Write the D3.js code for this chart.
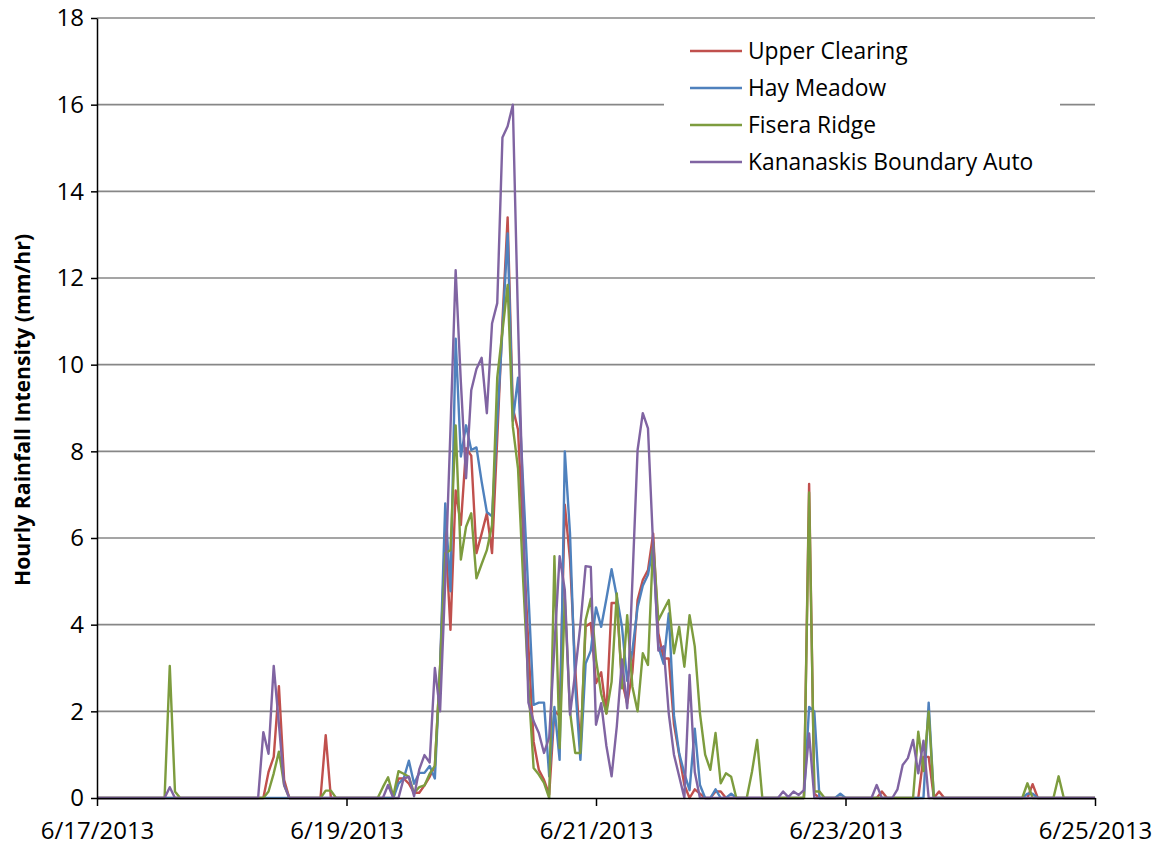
<!DOCTYPE html>
<html>
<head>
<meta charset="utf-8">
<script src="https://cdn.jsdelivr.net/npm/d3@7"></script>
<style>
  html, body { margin: 0; padding: 0; background: #fff; }
  svg { display: block; font-family: "Open Sans", "Liberation Sans", sans-serif; }
  .grid line { stroke: #878787; stroke-width: 1.6; }
  .axis path, .axis line { stroke: #000; stroke-width: 1.5; }
  .axis text { font-family: "Open Sans", "Liberation Sans", sans-serif; font-size: 24px; fill: #000; }
  .series { fill: none; stroke-width: 2.4; stroke-linejoin: round; }
</style>
</head>
<body>
<div id="chart"></div>
<script>
// --- DATA ---
// hourly values, 6/17/2013 00:00 to 6/25/2013 00:00 (one row per day)
const startDate = new Date(2013, 5, 17);
const endDate = new Date(2013, 5, 25);
const seriesNames = ["Upper Clearing", "Hay Meadow", "Fisera Ridge", "Kananaskis Boundary Auto"];
const seriesColors = ["#c0504d", "#4f81bd", "#7d9c3e", "#8064a2"];
const yTicks = [0, 2, 4, 6, 8, 10, 12, 14, 16, 18];
const xTickDates = ["2013-06-17", "2013-06-19", "2013-06-21", "2013-06-23", "2013-06-25"];

const upperClearing = [
  0,0,0,0,0,0,0,0,0,0,0,0,0,0,0,0,0,0,0,0,0,0,0,0,
  0,0,0,0,0,0,0,0,0,0.6,0.95,2.58,0.42,0,0,0,0,0,0,0,1.45,0,0,0,
  0,0,0,0,0,0,0,0,0,0,0.45,0.45,0.33,0.12,0.12,0.29,0.49,0.74,3.0,6.2,3.88,7.1,6.3,8.07,
  7.9,5.65,6.1,6.57,5.65,8.3,11.0,13.4,9.0,8.5,6.0,3.5,1.3,0.65,0.42,0.08,2.0,1.9,6.77,5.5,3.0,1.1,3.96,4.04,
  2.65,2.9,1.95,4.5,4.5,2.7,2.18,2.9,4.57,5.03,5.26,6.1,3.8,3.22,3.22,1.7,1.0,0.3,0,0.2,0.1,0,0,0.15,
  0.15,0,0,0,0,0,0,0,0,0,0,0,0,0,0,0,0,7.25,0.1,0,0,0,0,0,
  0,0,0,0,0,0,0,0.15,0,0,0,0,0,0,0,0.95,0.95,0,0.15,0,0,0,0,0,
  0,0,0,0,0,0,0,0,0,0,0,0,0.32,0,0,0,0,0,0,0,0,0,0,0,
  0
];
const hayMeadow = [
  0,0,0,0,0,0,0,0,0,0,0,0,0,0,0,0,0,0,0,0,0,0,0,0,
  0,0,0,0,0,0,0,0,0,0,0,0,0,0,0,0,0,0,0,0,0,0,0,0,
  0,0,0,0,0,0,0,0,0,0,0.33,0.45,0.86,0.33,0.58,0.58,0.74,0.45,3.0,6.8,4.77,10.6,7.88,8.6,
  8.03,8.09,7.3,6.6,6.5,8.7,10.8,13.03,8.7,9.7,7.2,4.7,2.15,2.2,2.2,0.5,2.1,0.88,8.0,6.1,2.6,0.88,3.1,3.4,
  4.4,3.95,4.6,5.28,4.65,3.95,2.7,3.4,4.4,4.9,5.15,5.8,3.5,3.1,4.26,1.9,1.03,0.57,0.18,1.6,0.3,0,0,0.2,
  0,0,0.1,0,0,0,0,0,0,0,0,0,0,0,0,0,0,2.1,2.0,0,0,0,0,0.1,
  0,0,0,0,0,0,0,0,0,0,0,0,0,0,0,0,2.2,0,0,0,0,0,0,0,
  0,0,0,0,0,0,0,0,0,0,0,0.1,0.1,0,0,0,0,0,0,0,0,0,0,0,
  0
];
const fiseraRidge = [
  0,0,0,0,0,0,0,0,0,0,0,0,0,0,3.05,0.15,0,0,0,0,0,0,0,0,
  0,0,0,0,0,0,0,0,0,0.15,0.57,1.07,0.3,0,0,0,0,0,0,0,0.17,0.17,0,0,
  0,0,0,0,0,0,0,0.25,0.48,0.04,0.62,0.56,0.49,0.12,0.25,0.29,0.56,0.74,3.0,5.65,5.72,8.6,5.5,6.26,
  6.57,5.07,5.4,5.72,6.3,9.7,10.76,11.84,8.57,7.6,5.0,2.6,0.69,0.54,0.35,0,5.58,1.15,4.6,2.0,1.04,1.04,4.1,4.6,
  3.2,2.4,1.95,2.68,4.72,2.53,4.22,2.57,2.0,3.34,3.07,5.9,4.1,4.34,4.57,3.34,3.95,3.03,4.22,3.5,1.95,1.0,0.65,1.5,
  0.34,0.57,0.49,0,0,0,0.6,1.34,0,0,0,0,0,0,0,0,0,7.05,0.15,0.15,0,0,0,0,
  0,0,0,0,0,0,0,0,0,0,0,0,0,0,1.53,0.62,2.0,0,0,0,0,0,0,0,
  0,0,0,0,0,0,0,0,0,0,0,0.34,0,0,0,0,0,0.5,0,0,0,0,0,0,
  0
];
const kananaskisBoundary = [
  0,0,0,0,0,0,0,0,0,0,0,0,0,0,0.25,0,0,0,0,0,0,0,0,0,
  0,0,0,0,0,0,0,0,1.52,1.02,3.05,1.7,0.3,0,0,0,0,0,0,0,0,0,0,0,
  0,0,0,0,0,0,0,0,0.3,0,0,0.45,0.49,0.04,0.66,0.99,0.82,3.0,2.0,5.0,8.5,12.18,9.6,7.38,
  9.41,9.9,10.16,8.88,10.95,11.42,15.24,15.5,16.0,11.0,6.5,2.2,1.77,1.5,1.04,1.4,3.5,5.58,4.8,1.92,2.9,4.0,5.35,5.33,
  1.69,2.19,1.2,0.5,1.65,3.2,2.07,5.0,8.03,8.88,8.53,5.8,3.4,3.5,1.95,1.0,0.5,0,2.84,0.6,0,0,0,0,
  0,0,0,0,0,0,0,0,0,0,0,0,0.15,0.02,0.15,0.07,0.18,1.49,0,0,0,0,0,0,
  0,0,0,0,0,0,0.3,0,0,0,0.2,0.76,0.92,1.34,0.57,1.32,0,0,0,0,0,0,0,0,
  0,0,0,0,0,0,0,0,0,0,0,0,0,0,0,0,0,0,0,0,0,0,0,0,
  0
];
const seriesValues = [upperClearing, hayMeadow, fiseraRidge, kananaskisBoundary];

// --- LAYOUT ---
const W = 1159, H = 848;
const margin = { top: 18, right: 64, bottom: 50, left: 97 };
const plotW = W - margin.left - margin.right;
const plotH = H - margin.top - margin.bottom;

const svg = d3.select("#chart").append("svg")
  .attr("width", W).attr("height", H);
const g = svg.append("g").attr("transform", `translate(${margin.left},${margin.top})`);

const hourTime = i => new Date(startDate.getTime() + i * 3600 * 1000);

const x = d3.scaleTime().domain([startDate, endDate]).range([0, plotW]);
const y = d3.scaleLinear().domain([0, 18]).range([plotH, 0]);

// gridlines
g.append("g").attr("class", "grid")
  .selectAll("line").data(yTicks.filter(d => d > 0)).enter().append("line")
  .attr("x1", 0).attr("x2", plotW)
  .attr("y1", d => y(d)).attr("y2", d => y(d));

// series lines
const line = d3.line()
  .x((d, i) => x(hourTime(i)))
  .y(d => y(d));

seriesValues.forEach((vals, k) => {
  g.append("path")
    .datum(vals)
    .attr("class", "series")
    .attr("stroke", seriesColors[k])
    .attr("d", line);
});

// axes
const parseDay = d3.timeParse("%Y-%m-%d");
const xAxis = d3.axisBottom(x)
  .tickValues(xTickDates.map(parseDay))
  .tickFormat(d3.timeFormat("%-m/%-d/%Y"))
  .tickSizeInner(8).tickSizeOuter(0).tickPadding(16);
g.append("g").attr("class", "axis")
  .attr("transform", `translate(0,${plotH})`)
  .call(xAxis);

const yAxis = d3.axisLeft(y)
  .tickValues(yTicks)
  .tickSizeInner(6).tickSizeOuter(0).tickPadding(7);
g.append("g").attr("class", "axis").call(yAxis);

// y axis title
svg.append("text")
  .attr("transform", `translate(30,${margin.top + plotH / 2 + 2}) rotate(-90)`)
  .attr("text-anchor", "middle")
  .style("font-size", "21.2px").style("font-weight", "bold")
  .text("Hourly Rainfall Intensity (mm/hr)");

// legend
const legend = svg.append("g").attr("transform", "translate(664,30)");
legend.append("rect").attr("width", 396).attr("height", 152).attr("fill", "#fff");
seriesNames.forEach((name, k) => {
  const row = legend.append("g").attr("transform", `translate(0,${21 + k * 37})`);
  row.append("line").attr("x1", 26).attr("x2", 78)
    .attr("stroke", seriesColors[k]).attr("stroke-width", 2.4);
  row.append("text").attr("x", 84).attr("dy", "0.35em")
    .style("font-size", "22.8px").text(name);
});
</script>
</body>
</html>
